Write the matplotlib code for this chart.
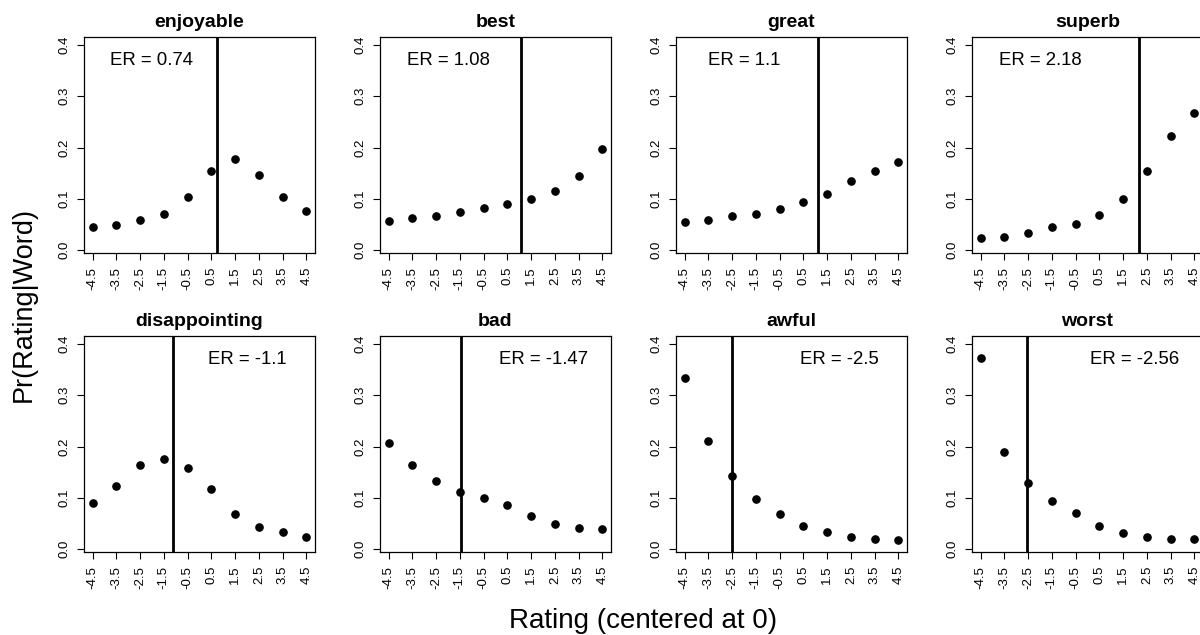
import matplotlib
matplotlib.use("Agg")
import matplotlib.pyplot as plt

plt.rcParams["font.family"] = ["Liberation Sans", "DejaVu Sans"]

# Rating scale (centered at 0)
ratings = [-4.5, -3.5, -2.5, -1.5, -0.5, 0.5, 1.5, 2.5, 3.5, 4.5]
tick_labels = ["-4.5", "-3.5", "-2.5", "-1.5", "-0.5", "0.5", "1.5", "2.5", "3.5", "4.5"]

words = ["enjoyable", "best", "great", "superb",
         "disappointing", "bad", "awful", "worst"]
er_values = [0.74, 1.08, 1.1, 2.18, -1.1, -1.47, -2.5, -2.56]

# Pr(Rating|Word)
enjoyable = [0.046, 0.049, 0.058, 0.071, 0.104, 0.154, 0.178, 0.147, 0.103, 0.077]
best = [0.057, 0.062, 0.067, 0.074, 0.082, 0.090, 0.099, 0.115, 0.145, 0.198]
great = [0.054, 0.058, 0.066, 0.071, 0.080, 0.093, 0.109, 0.134, 0.154, 0.171]
superb = [0.023, 0.026, 0.033, 0.046, 0.051, 0.069, 0.099, 0.155, 0.222, 0.267]
disappointing = [0.090, 0.123, 0.164, 0.175, 0.158, 0.118, 0.069, 0.043, 0.033, 0.023]
bad = [0.206, 0.164, 0.133, 0.112, 0.100, 0.086, 0.065, 0.049, 0.041, 0.040]
awful = [0.334, 0.211, 0.143, 0.098, 0.069, 0.045, 0.033, 0.024, 0.019, 0.018]
worst = [0.372, 0.190, 0.129, 0.094, 0.070, 0.045, 0.031, 0.024, 0.019, 0.019]

series = [enjoyable, best, great, superb, disappointing, bad, awful, worst]

W, H = 1200, 635
fig = plt.figure(figsize=(W / 100, H / 100), dpi=100)

# panel boxes in pixels (last column runs off the right edge, as in the original)
lefts = [84, 380, 676, 972]
tops = [37, 336]
pw, ph = 231, 216

for i, (word, er, probs) in enumerate(zip(words, er_values, series)):
    row, col = divmod(i, 4)
    ax = fig.add_axes([lefts[col] / W, 1 - (tops[row] + ph) / H, pw / W, ph / H])
    ax.plot(ratings, probs, "o", color="black", ms=5.2)
    ax.axvline(er, color="black", lw=2)
    ax.set_xlim(-4.86, 4.86)
    ax.set_ylim(-0.0056, 0.4156)
    ax.set_xticks(ratings)
    ax.set_xticklabels(tick_labels, rotation=90)
    ax.set_yticks([0.0, 0.1, 0.2, 0.3, 0.4])
    ax.set_yticklabels(["0.0", "0.1", "0.2", "0.3", "0.4"], rotation=90, va="center")
    ax.tick_params(length=5, width=0.8, pad=5, labelsize=9.5)
    for s in ax.spines.values():
        s.set_linewidth(0.9)
    ax.set_title(word, fontsize=14, fontweight="bold", pad=7)
    tx = -2 if er > 0 else 2
    ax.text(tx, 0.37, "ER = %g" % er, ha="center", va="center", fontsize=13.4)

fig.text(643 / W, 1 - 628 / H, "Rating (centered at 0)", ha="center",
         va="baseline", fontsize=20)
fig.text(24 / W, 1 - 305 / H, "Pr(Rating|Word)", ha="center", va="center",
         rotation=90, fontsize=19.5)

fig.savefig("out.png", dpi=100)
